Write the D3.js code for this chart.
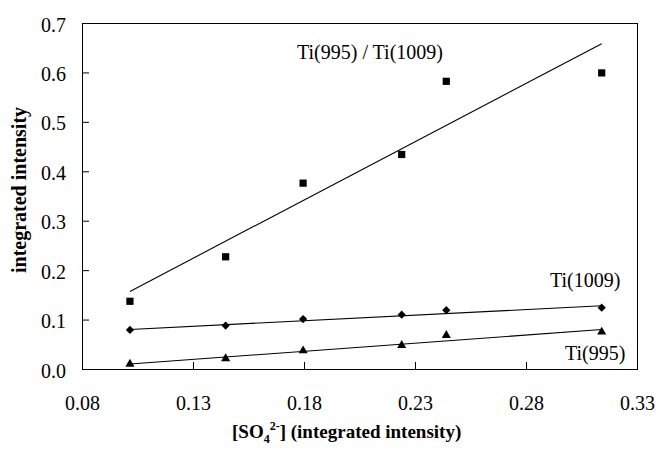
<!DOCTYPE html>
<html>
<head>
<meta charset="utf-8">
<script src="https://cdn.jsdelivr.net/npm/d3@7"></script>
</head>
<body style="margin:0; background:#fff">
<svg id="svg"></svg>
<script>
// sulfate band intensity (x) for each sample
var sulfate = [0.1016, 0.1447, 0.1796, 0.224, 0.2441, 0.3141];
// measured intensities
var ratio = [0.137, 0.227, 0.376, 0.434, 0.582, 0.599];
var ti1009 = [0.079, 0.088, 0.101, 0.110, 0.119, 0.124];
var ti995 = [0.010, 0.021, 0.037, 0.048, 0.068, 0.075];

// trend lines, read at the first and last sulfate value
var fitX = [0.1016, 0.3141];
var fitRatio = [0.157, 0.658];
var fit1009 = [0.080, 0.128];
var fit995 = [0.010, 0.080];

var xticks = [0.08, 0.13, 0.18, 0.23, 0.28, 0.33];
var yticks = [0, 0.1, 0.2, 0.3, 0.4, 0.5, 0.6, 0.7];

var serif = "'Liberation Serif'";

var width = 656,
    height = 453;
var margin = {top: 23, right: 19, bottom: 84, left: 82};
var gwidth = width - margin.left - margin.right,
    gheight = height - margin.top - margin.bottom;

var container = d3.select("#svg")
    .attr("width", width)
    .attr("height", height)
    .style("display", "block")
    .style("font-family", serif);

var svg = container.append("g")
    .attr("transform", "translate(" + margin.left + "," + margin.top + ")");

var x = d3.scaleLinear().domain([0.08, 0.33]).range([0, gwidth]);
var y = d3.scaleLinear().domain([0, 0.7]).range([gheight, 0]);

// axes, ticks pointing inward
var xAxis = d3.axisBottom(x)
    .tickValues(xticks)
    .tickSizeInner(-7)
    .tickSizeOuter(0)
    .tickFormat(d3.format(".2f"));
var yAxis = d3.axisLeft(y)
    .tickValues(yticks)
    .tickSizeInner(-7)
    .tickSizeOuter(0)
    .tickFormat(d3.format(".1f"));

var gx = svg.append("g")
    .attr("transform", "translate(0," + gheight + ")")
    .call(xAxis);
var gy = svg.append("g").call(yAxis);

[gx, gy].forEach(function(g){
    g.attr("font-family", null).attr("font-size", null);
    g.select(".domain").remove();
    g.selectAll("line").attr("stroke", "#000");
    g.selectAll("text")
        .style("font-family", serif)
        .style("font-size", "20px")
        .attr("fill", "#000");
});
gx.selectAll("text").attr("y", 41).attr("dy", 0);
gy.selectAll("text").attr("x", -16).attr("dy", "0.4em");

// frame
svg.append("rect")
    .attr("x", 0.5)
    .attr("y", 0.5)
    .attr("width", gwidth)
    .attr("height", gheight)
    .attr("fill", "none")
    .attr("stroke", "#000")
    .attr("stroke-width", 1);

// trend lines
function drawFit(vals){
    svg.append("line")
        .attr("x1", x(fitX[0]))
        .attr("y1", y(vals[0]))
        .attr("x2", x(fitX[1]))
        .attr("y2", y(vals[1]))
        .attr("stroke", "#000")
        .attr("stroke-width", 1.1);
}
drawFit(fitRatio);
drawFit(fit1009);
drawFit(fit995);

// markers
function drawPoints(vals, type, size, rotate){
    var sym = d3.symbol().type(type).size(size);
    svg.append("g").selectAll("path")
        .data(vals)
        .enter().append("path")
        .attr("d", sym)
        .attr("fill", "#000")
        .attr("transform", function(d, i){
            return "translate(" + x(sulfate[i]) + "," + y(d) + ") rotate(" + rotate + ")";
        });
}
drawPoints(ratio, d3.symbolSquare, 52, 0);
drawPoints(ti1009, d3.symbolSquare, 34, 45);
drawPoints(ti995, d3.symbolTriangle, 36, 0);

// series labels
function label(txt, lx, ly){
    container.append("text")
        .attr("x", lx)
        .attr("y", ly)
        .style("font-family", serif)
        .style("font-size", "20px")
        .attr("fill", "#000")
        .text(txt);
}
label("Ti(995) / Ti(1009)", 297, 59);
label("Ti(1009)", 550, 287);
label("Ti(995)", 565, 360);

// axis titles
container.append("text")
    .attr("text-anchor", "middle")
    .style("font-family", serif)
    .style("font-size", "20px")
    .style("font-weight", "bold")
    .attr("transform", "translate(26," + (margin.top + gheight / 2 - 6) + ") rotate(-90)")
    .text("integrated intensity");

var xt = container.append("text")
    .attr("x", 232)
    .attr("y", 438)
    .style("font-family", serif)
    .style("font-size", "19px")
    .style("font-weight", "bold");
xt.append("tspan").text("[SO");
xt.append("tspan").style("font-size", "12px").attr("dy", 5).text("4");
xt.append("tspan").style("font-size", "12px").attr("dy", -13).text("2-");
xt.append("tspan").attr("dy", 8).text("] (integrated intensity)");
</script>
</body>
</html>
